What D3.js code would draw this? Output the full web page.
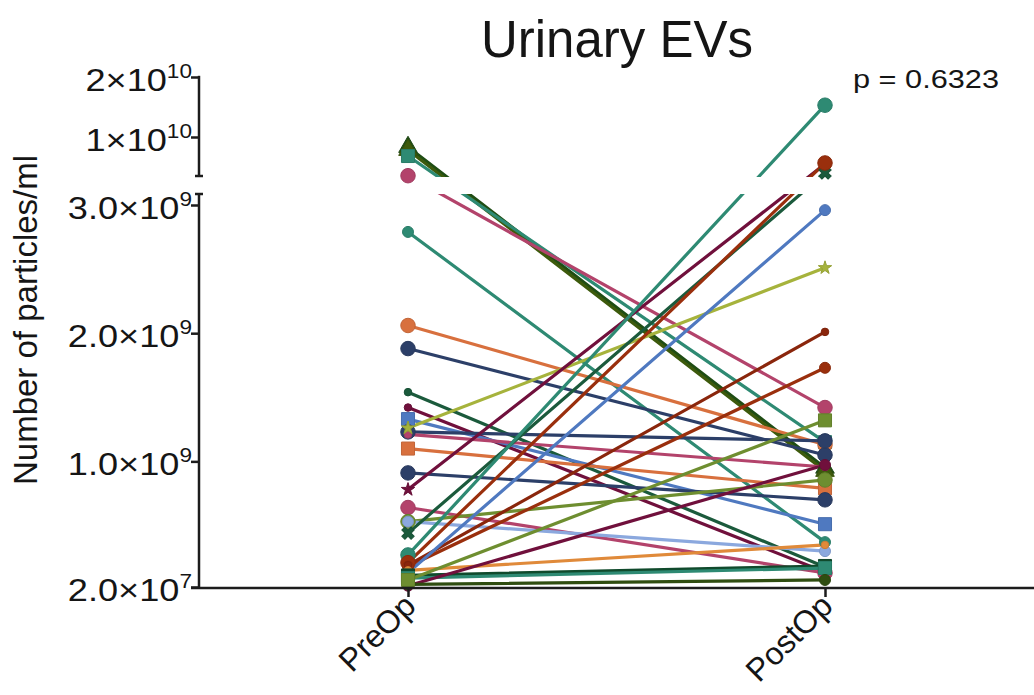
<!DOCTYPE html>
<html>
<head>
<meta charset="utf-8">
<script src="https://cdn.jsdelivr.net/npm/d3@7"></script>
<style>
  body { margin: 0; background: #fff; }
  text { font-family: "Liberation Sans", Arial, Helvetica, sans-serif; fill: #151515; }
</style>
</head>
<body>
<svg id="chart" width="1034" height="695"></svg>
<script>
// ===========================================================================
//     data area
// ===========================================================================
const groups = ['PreOp', 'PostOp'];

// one entry per patient, particles/ml
const preOp = [
  8.33e9, 7.83e9, 6.83e9, 3.55e9, 2.79e9, 2.06e9, 1.88e9, 1.54e9, 1.42e9, 1.33e9,
  1.23e9, 1.21e9, 1.26e9, 1.10e9, 0.91e9, 0.78e9, 0.64e9, 0.53e9, 0.53e9, 0.44e9,
  0.27e9, 0.21e9, 0.18e9, 0.19e9, 0.13e9, 0.15e9, 0.11e9, 0.09e9, 0.03e9, 0.04e9,
  0.075e9,
];
const postOp = [
  0.95e9, 0.925e9, 1.15e9, 1.42e9, 0.37e9, 1.13e9, 1.05e9, 0.176e9, 0.137e9, 0.51e9,
  1.16e9, 0.956e9, 2.51e9, 0.79e9, 0.70e9, 5.5e9, 0.129e9, 0.855e9, 0.30e9, 4.0e9,
  1.53e10, 5.67e9, 1.73e9, 2.01e9, 2.96e9, 0.348e9, 0.184e9, 0.168e9, 0.972e9, 0.075e9,
  1.32e9,
];

const lowerTicks = [2e7, 1e9, 2e9, 3e9];
const lowerTickLabels = [['2.0×10', '7'], ['1.0×10', '9'], ['2.0×10', '9'], ['3.0×10', '9']];
const upperTicks = [1e10, 2e10];
const upperTickLabels = [['1×10', '10'], ['2×10', '10']];

const chartTitle = 'Urinary EVs';
const yTitle = 'Number of particles/ml';
const pText = 'p = 0.6323';

// styles, one per patient (kept apart from the values)
const pairColors = [
  '#1f4d14', '#3d5a0c', '#2e8a73', '#b3436b', '#2e8a73', '#d8703e', '#2c3f68', '#1b5a3c', '#70103c', '#4f79c0',
  '#2c3f68', '#b3436b', '#a6b33c', '#d8703e', '#2c3f68', '#70103c', '#b3436b', '#6e8e30', '#8ba8de', '#1b5a3c',
  '#2e8a73', '#9a2f0d', '#9a2f0d', '#8a260c', '#4f79c0', '#e08a3a', '#104a2c', '#2e8a73', '#70103c', '#2f4d10',
  '#6e8e30',
];
const pairShapes = [
  'triangle', 'triangle', 'square', 'circle', 'circle', 'circle', 'circle', 'circle', 'circle', 'square',
  'circle', 'circle', 'star', 'square', 'circle', 'star', 'circle', 'circle', 'circle', 'cross',
  'circle', 'circle', 'circle', 'circle', 'circle', 'circle', 'square', 'square', 'circle', 'circle',
  'square',
];
const pairSizes = [
  'big', 'big', 'big', 'big', 'mid', 'big', 'big', 'small', 'small', 'big',
  'big', 'small', 'small', 'big', 'big', 'small', 'big', 'big', 'mid', 'mid',
  'big', 'big', 'mid', 'small', 'mid', 'small', 'big', 'big', 'mid', 'mid',
  'big',
];

// ===========================================================================
//      layout
// ===========================================================================
const axisX = 199;
const baseY = 588;
const upperBottom = 176;
const lowerTop = 194;
const lineWidth = 3.2;
const axisColor = '#1c1c1c';
const labelStretch = 1.13;

const svg = d3.select('#chart');

const x = d3.scalePoint().domain(groups).range([408, 825]);
const yLow = d3.scaleLinear().domain([2e7, 3e9]).range([587, 205]);
const yHigh = d3.scaleLinear().domain([3.5e9, 2e10]).range([upperBottom, 77]);
const breakValue = 3.3e9;
const yOf = v => (v > breakValue ? yHigh(v) : yLow(v));

const symbolTypes = {
  circle: d3.symbolCircle,
  square: d3.symbolSquare,
  triangle: d3.symbolTriangle,
  star: d3.symbolStar,
  cross: d3.symbolCross,
};
const symbolArea = {
  circle: { big: 165, mid: 95, small: 45 },
  square: { big: 170, mid: 100, small: 50 },
  triangle: { big: 150, mid: 90, small: 45 },
  star: { big: 120, mid: 80, small: 55 },
  cross: { big: 120, mid: 95, small: 50 },
};

const pairs = preOp.map((v, i) => ({
  pre: v,
  post: postOp[i],
  color: pairColors[i],
  shape: pairShapes[i],
  size: pairSizes[i],
}));

// ===========================================================================
//      clip regions for the broken axis
// ===========================================================================
const defs = svg.append('defs');
defs.append('clipPath').attr('id', 'clipUpper')
  .append('rect').attr('x', 0).attr('y', 0).attr('width', 1034).attr('height', upperBottom + 1);
defs.append('clipPath').attr('id', 'clipLower')
  .append('rect').attr('x', 0).attr('y', lowerTop).attr('width', 1034).attr('height', 695 - lowerTop);

// ===========================================================================
//      draw lines
// ===========================================================================
['clipUpper', 'clipLower'].forEach(function (clip) {
  svg.append('g')
    .attr('clip-path', `url(#${clip})`)
    .selectAll('line')
    .data(pairs)
    .enter()
    .append('line')
    .attr('x1', x('PreOp'))
    .attr('x2', x('PostOp'))
    .attr('y1', d => yOf(d.pre))
    .attr('y2', d => yOf(d.post))
    .attr('stroke', d => d.color)
    .attr('stroke-width', lineWidth)
    .attr('stroke-linecap', 'round');
});

// ===========================================================================
//      draw markers
// ===========================================================================
const markers = [];
pairs.forEach(function (d) {
  markers.push({ g: 'PreOp', v: d.pre, d });
  markers.push({ g: 'PostOp', v: d.post, d });
});

svg.append('g')
  .selectAll('path')
  .data(markers)
  .enter()
  .append('path')
  .attr('d', m => d3.symbol().type(symbolTypes[m.d.shape]).size(symbolArea[m.d.shape][m.d.size])())
  .attr('transform', m => `translate(${x(m.g)},${yOf(m.v)})${m.d.shape === 'cross' ? ' rotate(45)' : ''}`)
  .attr('fill', m => m.d.color)
  .attr('stroke', m => d3.color(m.d.color).darker(0.3))
  .attr('stroke-width', 1);

// ===========================================================================
//      axes
// ===========================================================================
function labelTicks(sel, labels) {
  sel.selectAll('.tick text').each(function (t, i) {
    const txt = d3.select(this)
      .text(null)
      .attr('x', -7 / labelStretch)
      .attr('dy', null)
      .attr('y', 13)
      .attr('transform', `scale(${labelStretch},1)`)
      .attr('font-size', 32)
      .attr('text-anchor', 'end')
      .attr('fill', '#151515');
    txt.append('tspan').text(labels[i][0]);
    txt.append('tspan').text(labels[i][1]).attr('font-size', 20).attr('dy', -13);
  });
}

const lowerAxis = svg.append('g')
  .attr('transform', `translate(${axisX},0)`)
  .call(d3.axisLeft(yLow).tickValues(lowerTicks).tickSize(8).tickSizeOuter(0));
labelTicks(lowerAxis, lowerTickLabels);

const upperAxis = svg.append('g')
  .attr('transform', `translate(${axisX},0)`)
  .call(d3.axisLeft(yHigh).tickValues(upperTicks).tickSize(8).tickSizeOuter(0));
labelTicks(upperAxis, upperTickLabels);

[lowerAxis, upperAxis].forEach(function (a) {
  a.select('.domain').remove();
  a.selectAll('.tick line').attr('stroke', axisColor).attr('stroke-width', 2.5);
});

// axis spines with the break caps
const spine = svg.append('g').attr('stroke', axisColor).attr('stroke-width', 2.5);
spine.append('line').attr('x1', axisX).attr('x2', axisX).attr('y1', yHigh(2e10) - 1.2).attr('y2', upperBottom);
spine.append('line').attr('x1', axisX - 4).attr('x2', axisX + 4).attr('y1', upperBottom).attr('y2', upperBottom);
spine.append('line').attr('x1', axisX).attr('x2', axisX).attr('y1', lowerTop).attr('y2', baseY);
spine.append('line').attr('x1', axisX - 4).attr('x2', axisX + 4).attr('y1', lowerTop).attr('y2', lowerTop);

// x axis
spine.append('line').attr('x1', axisX - 8).attr('x2', 1034).attr('y1', baseY).attr('y2', baseY);
const xAxis = svg.append('g')
  .attr('transform', `translate(0,${baseY})`)
  .call(d3.axisBottom(x).tickSize(9).tickSizeOuter(0));
xAxis.select('.domain').remove();
xAxis.selectAll('.tick line').attr('stroke', axisColor).attr('stroke-width', 2.5);
xAxis.selectAll('.tick text')
  .attr('font-size', 32)
  .attr('fill', '#151515')
  .attr('text-anchor', 'end')
  .attr('dy', null)
  .attr('y', 0)
  .attr('transform', 'translate(9,20) rotate(-45)');

// ===========================================================================
//      titles
// ===========================================================================
svg.append('text')
  .attr('x', 617)
  .attr('y', 57)
  .attr('text-anchor', 'middle')
  .attr('font-size', 51)
  .text(chartTitle);

svg.append('text')
  .attr('transform', 'translate(37,320) rotate(-90)')
  .attr('text-anchor', 'middle')
  .attr('font-size', 33)
  .text(yTitle);

svg.append('text')
  .attr('x', 853)
  .attr('y', 88)
  .attr('font-size', 26)
  .attr('textLength', 146)
  .attr('lengthAdjust', 'spacingAndGlyphs')
  .text(pText);
</script>
</body>
</html>
